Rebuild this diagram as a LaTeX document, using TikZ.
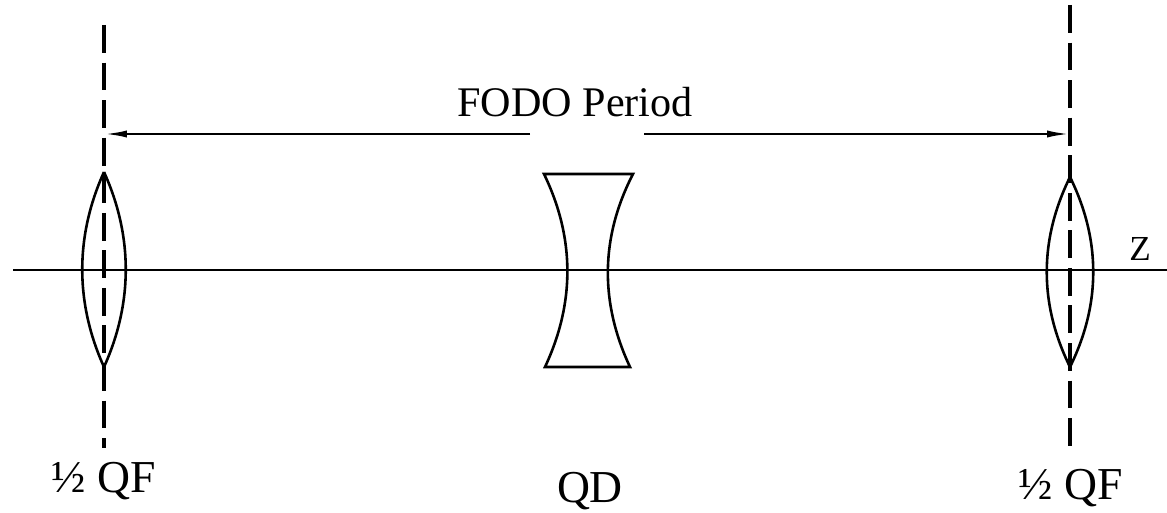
\documentclass[tikz,border=0pt]{standalone}
\usepackage{fontspec}
\setmainfont{Liberation Serif}
\usetikzlibrary{arrows.meta}
\tikzset{
	axisline/.style={line width=2.4*0.567pt},
	lensline/.style={line width=2.6*0.567pt},
	planeline/.style={line width=3.6*0.567pt, dash pattern=on 28*0.567pt off 9.7*0.567pt},
	spanline/.style={line width=2.4*0.567pt, -{Latex[length=13pt, width=4pt]}},
	lbl/.style={inner sep=0pt, font=\fontsize{24}{28}\selectfont},
	lblbig/.style={inner sep=0pt, font=\fontsize{26}{30}\selectfont},
	lblsmall/.style={inner sep=0pt, font=\fontsize{20}{24}\selectfont},
}
\begin{document}
\begin{tikzpicture}[x=0.02cm, y=-0.02cm]
	\useasboundingbox (0,0) rectangle (1167,513);
	% axis
	\coordinate (zstart) at (13,270);
	\coordinate (zend) at (1167,270);
	\draw[axisline] (zstart) -- (zend);
	\node[lblsmall] (zlabel) at (1140,249) {Z};
	% planes of the two half lenses
	\coordinate (planeLtop) at (104,25);
	\coordinate (planeLbot) at (104,448);
	\coordinate (planeRtop) at (1070,5);
	\coordinate (planeRbot) at (1070,448);
	\draw[planeline] (planeLtop) -- (planeLbot);
	\draw[planeline] (planeRtop) -- (planeRbot);
	% period
	\node[lbl] (period) at (575,102) {FODO Period};
	\coordinate (gapL) at (530,134);
	\coordinate (gapR) at (644,134);
	\coordinate (endL) at (104,134);
	\coordinate (endR) at (1070,134);
	\draw[spanline] (gapL) -- (endL);
	\draw[spanline] (gapR) -- (endR);
	% left half QF
	\draw[lensline] (104,172) .. controls (75,236) and (75,303) .. (104,367)
		.. controls (133,303) and (133,236) .. (104,172);
	\node[lblbig] (qfL) at (104,481) {½ QF};
	% QD
	\draw[lensline] (544,174) -- (633,174) .. controls (600,238) and (600,303) .. (630,367)
		-- (545,367) .. controls (575,303) and (575,238) .. cycle;
	\node[lblbig] (qd) at (590,491) {QD};
	% right half QF
	\draw[lensline] (1070,177) .. controls (1039,240) and (1039,304) .. (1070,367)
		.. controls (1101,304) and (1101,240) .. (1070,177);
	\node[lblbig] (qfR) at (1071,488) {½ QF};
\end{tikzpicture}
\end{document}
